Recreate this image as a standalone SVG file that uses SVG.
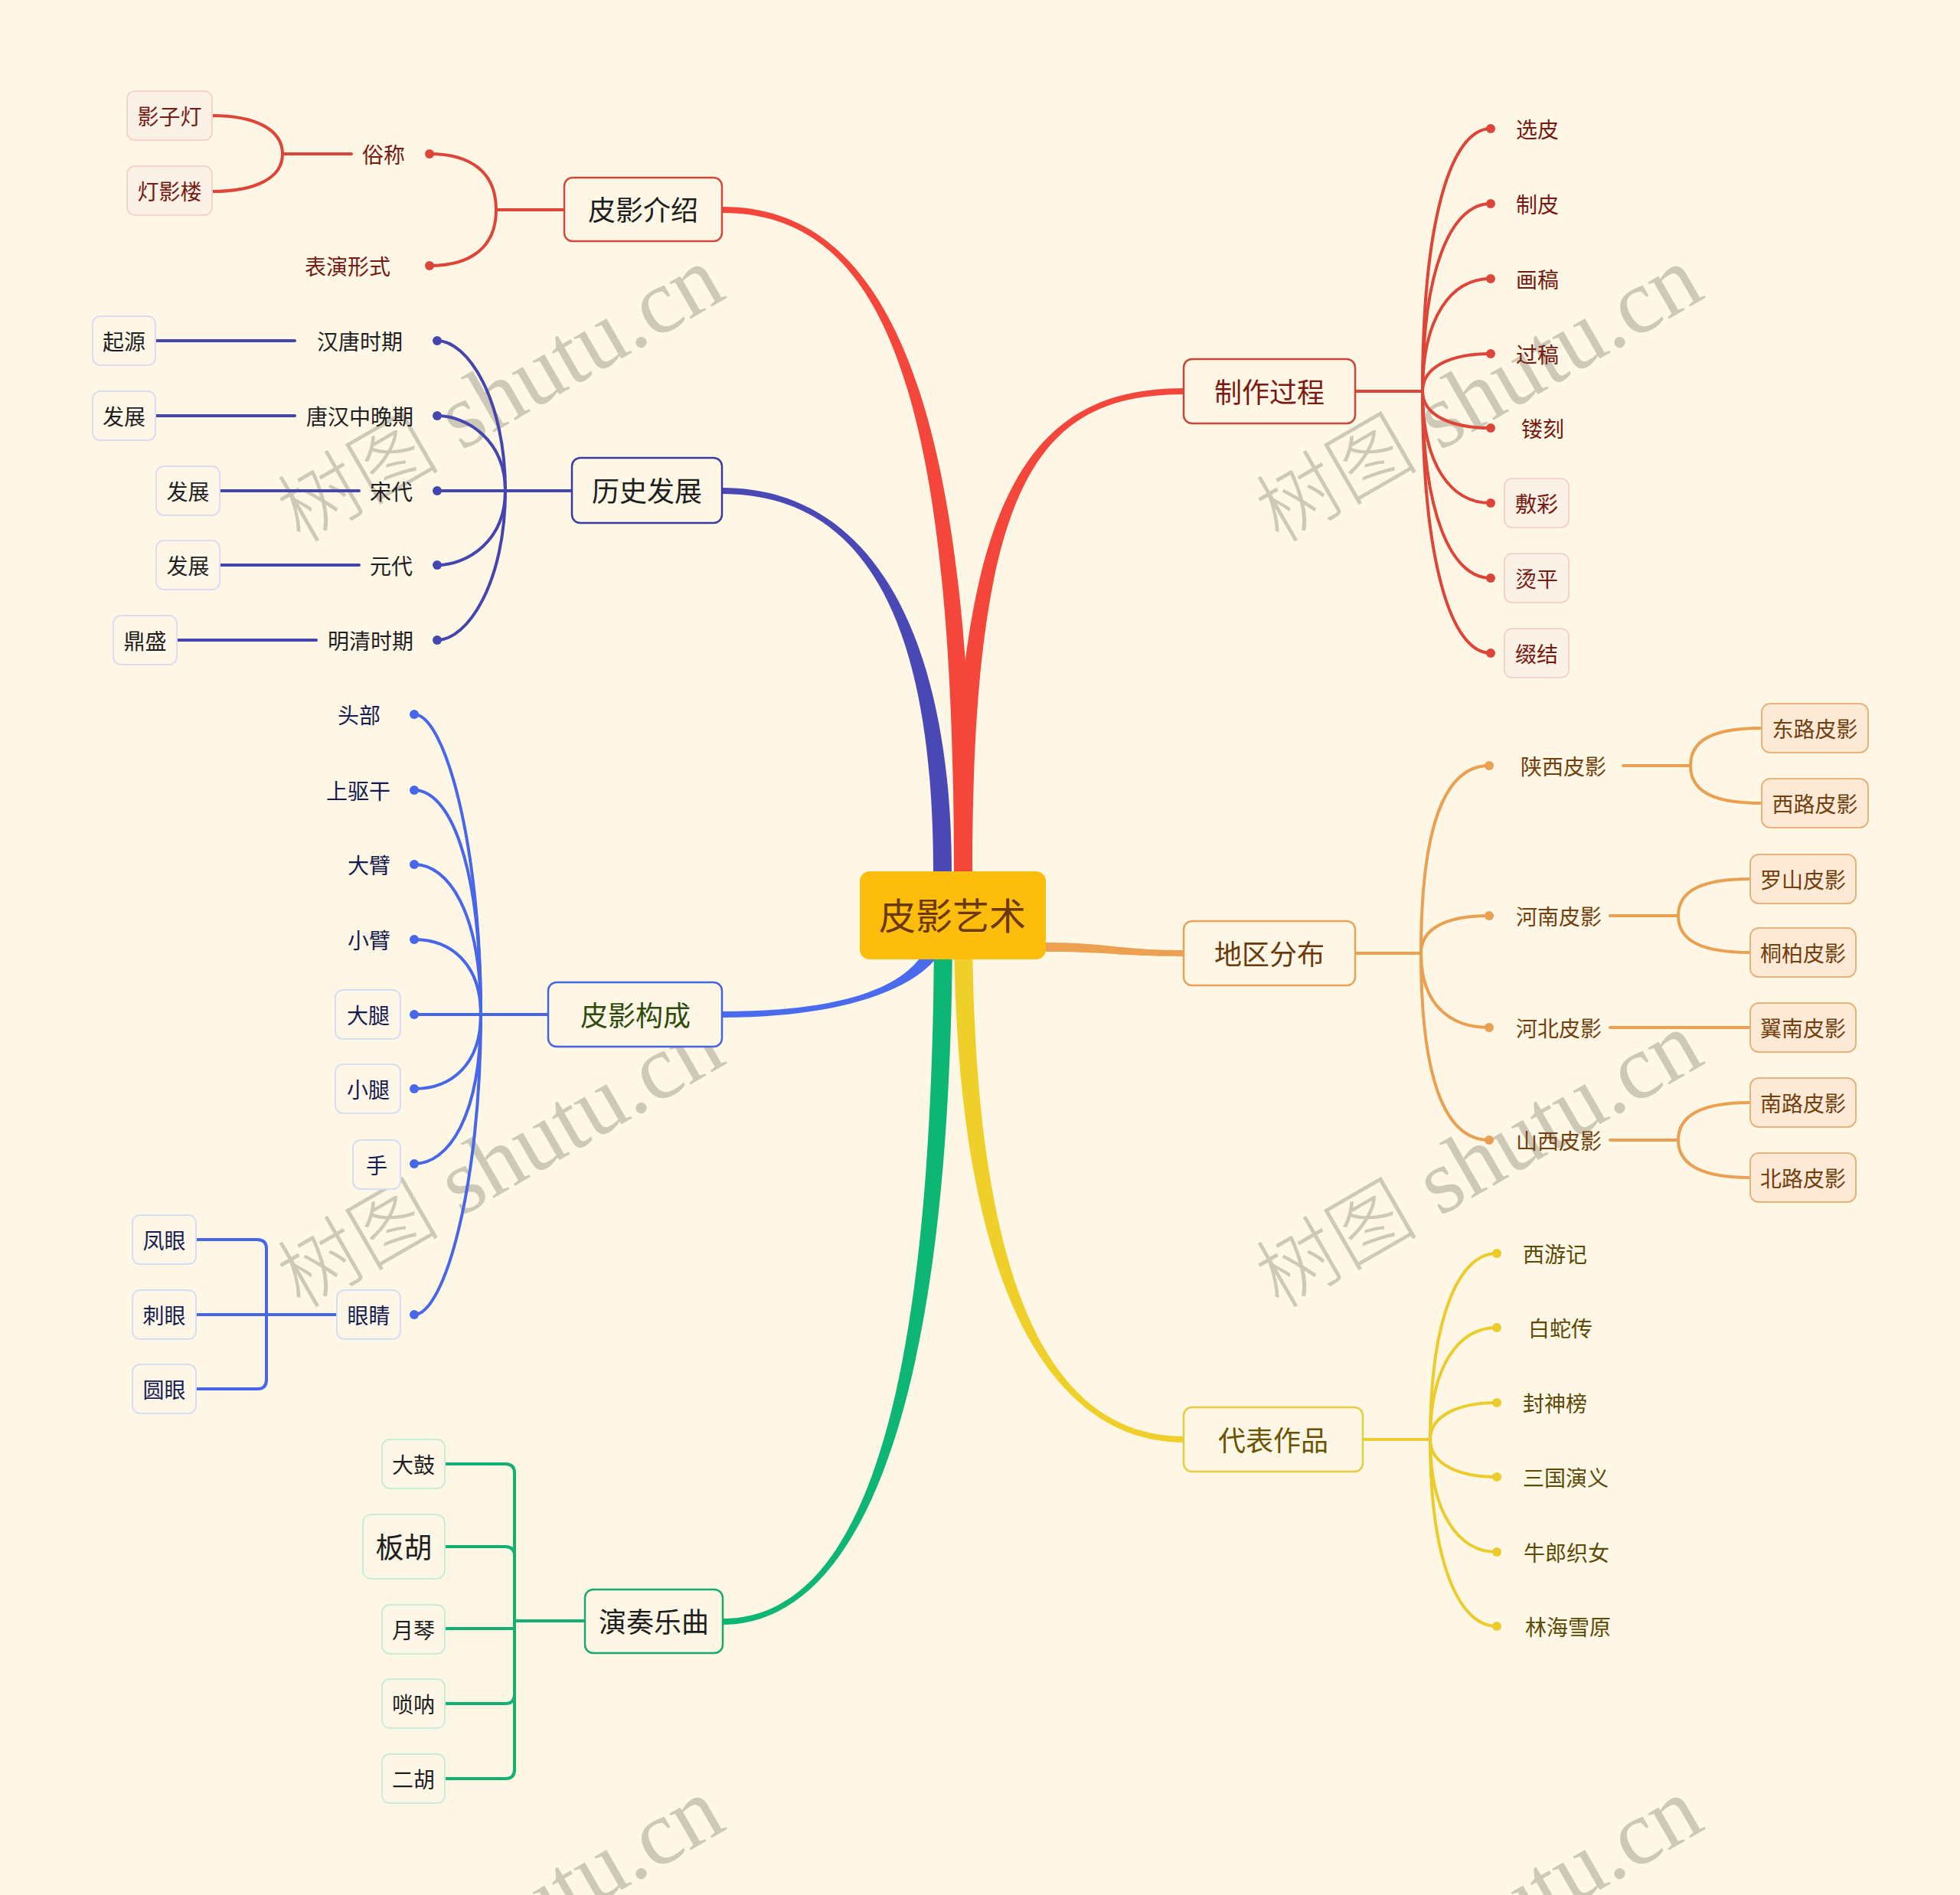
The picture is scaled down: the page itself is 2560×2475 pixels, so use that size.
<svg xmlns="http://www.w3.org/2000/svg" width="2560" height="2475" viewBox="0 0 2560 2475">
<style>
text{font-family:"Noto Sans CJK SC","Noto Sans",sans-serif;text-anchor:middle}
.wm{font-family:"Liberation Serif","Noto Sans CJK SC",serif;font-size:120px;fill:#CEC8B8;text-anchor:middle}
.wmc{font-family:"Noto Sans CJK SC",serif;font-size:106px;font-weight:300}
.l1{font-size:36px}
.l2{font-size:28px}
.box1{fill:#FEF7E6;stroke-width:2.5}
.ln{fill:none;stroke-width:4;stroke-linecap:round}
.red{stroke:#DE4539}.indigo{stroke:#4545B0}.blue{stroke:#4767E8}.green{stroke:#13B073}.orange{stroke:#EAA050}.yellow{stroke:#ECCC2C}
.dred{fill:#DE4539}.dindigo{fill:#4545B0}.dblue{fill:#4767E8}.dorange{fill:#EAA050}.dyellow{fill:#ECCC2C}
.lf-red{fill:#FCF1E6;stroke:#F3D4CB;stroke-width:2}
.lf-indigo{fill:#FEF7E8;stroke:#DCDBF0;stroke-width:2}
.lf-blue{fill:#FEF7E8;stroke:#D6DDF5;stroke-width:2}
.lf-green{fill:#FEF7E8;stroke:#CDEBD9;stroke-width:2}
.lf-orange{fill:#FCE9D6;stroke:#E9B27A;stroke-width:2}
.t-red{fill:#761A12}.t-dark{fill:#1E1E1E}.t-navy{fill:#161C52}.t-brown{fill:#74400E}.t-olive{fill:#5C4A05}
</style>
<rect width="2560" height="2475" fill="#FEF7E6"/>

<g id="watermarks">
<text class="wm" transform="translate(672,549) rotate(-30)"><tspan class="wmc">树图</tspan> shutu.cn</text>
<text class="wm" transform="translate(1950,549) rotate(-30)"><tspan class="wmc">树图</tspan> shutu.cn</text>
<text class="wm" transform="translate(672,1549) rotate(-30)"><tspan class="wmc">树图</tspan> shutu.cn</text>
<text class="wm" transform="translate(1950,1549) rotate(-30)"><tspan class="wmc">树图</tspan> shutu.cn</text>
<text class="wm" transform="translate(672,2549) rotate(-30)"><tspan class="wmc">树图</tspan> shutu.cn</text>
<text class="wm" transform="translate(1950,2549) rotate(-30)"><tspan class="wmc">树图</tspan> shutu.cn</text>
</g>

<g id="connectors">
<path fill="#4A48B5" d="M1219,1140 C1219,850 1150,645 943,645 L943,637 C1150,637 1243,850 1243,1140 Z"/>
<path fill="#F4463A" d="M1246,1140 C1246,500 1150,278 943,278 L943,270 C1150,270 1270,500 1270,1140 Z"/>
<path fill="#F4463A" d="M1246,1140 C1246,620 1360,507 1547,507 L1547,515 C1360,515 1270,620 1270,1140 Z"/>
<path fill="#4A6BEE" d="M1244,1195 C1244,1290 1100,1329 943,1329 L943,1321 C1100,1321 1220,1290 1220,1195 Z"/>
<path fill="#0DB674" d="M1244,1200 C1244,1850 1120,2122 943,2122 L943,2114 C1120,2114 1220,1850 1220,1200 Z"/>
<path fill="#EFD02A" d="M1270,1200 C1270,1700 1380,1876 1547,1876 L1547,1884 C1380,1884 1246,1700 1246,1200 Z"/>
<path fill="#EDA050" d="M1360,1231 C1450,1231 1460,1241 1547,1241 L1547,1249 C1460,1249 1450,1243 1360,1243 Z"/>

<path class="ln red" d="M737,274 H648"/>
<path class="ln red" d="M561,201 C615,201 648,225 648,274 C648,323 615,347 561,347"/>
<path class="ln red" d="M277,151 C335,151 369,170 369,201 C369,232 335,250 277,250"/>
<path class="ln red" d="M369,201 H459"/>
<circle class="dred" cx="561" cy="201" r="6"/>
<circle class="dred" cx="561" cy="347" r="6"/>

<path class="ln indigo" d="M747,641 H571"/>
<path class="ln indigo" d="M571,445 C610,445 660,520 660,641"/>
<path class="ln indigo" d="M571,543 C610,543 660,575 660,641"/>
<path class="ln indigo" d="M571,738 C610,738 660,707 660,641"/>
<path class="ln indigo" d="M571,836 C610,836 660,762 660,641"/>
<path class="ln indigo" d="M203,445 H385"/>
<path class="ln indigo" d="M203,543 H385"/>
<path class="ln indigo" d="M287,641 H469"/>
<path class="ln indigo" d="M287,738 H469"/>
<path class="ln indigo" d="M231,836 H413"/>
<circle class="dindigo" cx="571" cy="445" r="6"/>
<circle class="dindigo" cx="571" cy="543" r="6"/>
<circle class="dindigo" cx="571" cy="641" r="6"/>
<circle class="dindigo" cx="571" cy="738" r="6"/>
<circle class="dindigo" cx="571" cy="836" r="6"/>

<path class="ln blue" d="M716,1325 H541"/>
<path class="ln blue" d="M541,933 C580,933 628,1100 628,1325"/>
<path class="ln blue" d="M541,1032 C585,1032 628,1120 628,1325"/>
<path class="ln blue" d="M541,1129 C585,1129 628,1190 628,1325"/>
<path class="ln blue" d="M541,1227 C590,1227 628,1260 628,1325"/>
<path class="ln blue" d="M541,1422 C590,1422 628,1390 628,1325"/>
<path class="ln blue" d="M541,1520 C585,1520 628,1460 628,1325"/>
<path class="ln blue" d="M541,1717 C580,1717 628,1550 628,1325"/>
<path class="ln blue" d="M440,1717 H256"/>
<path class="ln blue" d="M256,1619 H336 Q348,1619 348,1631 V1802 Q348,1814 336,1814 H256"/>
<circle class="dblue" cx="541" cy="933" r="6"/>
<circle class="dblue" cx="541" cy="1032" r="6"/>
<circle class="dblue" cx="541" cy="1129" r="6"/>
<circle class="dblue" cx="541" cy="1227" r="6"/>
<circle class="dblue" cx="541" cy="1325" r="6"/>
<circle class="dblue" cx="541" cy="1422" r="6"/>
<circle class="dblue" cx="541" cy="1520" r="6"/>
<circle class="dblue" cx="541" cy="1717" r="6"/>

<path class="ln green" d="M764,2117 H672"/>
<path class="ln green" d="M581,1912 H660 Q672,1912 672,1924 V2311 Q672,2323 660,2323 H581"/>
<path class="ln green" d="M581,2020 H660 Q672,2020 672,2032"/>
<path class="ln green" d="M581,2127 H672"/>
<path class="ln green" d="M581,2225 H660 Q672,2225 672,2213"/>

<path class="ln red" d="M1770,511 H1858"/>
<path class="ln red" d="M1947,168 C1895,168 1858,288 1858,511"/>
<path class="ln red" d="M1947,266 C1895,266 1858,352 1858,511"/>
<path class="ln red" d="M1947,364 C1895,364 1858,415 1858,511"/>
<path class="ln red" d="M1947,462 C1895,462 1858,479 1858,511"/>
<path class="ln red" d="M1947,559 C1895,559 1858,542 1858,511"/>
<path class="ln red" d="M1947,657 C1895,657 1858,607 1858,511"/>
<path class="ln red" d="M1947,755 C1895,755 1858,670 1858,511"/>
<path class="ln red" d="M1947,853 C1895,853 1858,733 1858,511"/>
<circle class="dred" cx="1947" cy="168" r="6"/>
<circle class="dred" cx="1947" cy="266" r="6"/>
<circle class="dred" cx="1947" cy="364" r="6"/>
<circle class="dred" cx="1947" cy="462" r="6"/>
<circle class="dred" cx="1947" cy="559" r="6"/>
<circle class="dred" cx="1947" cy="657" r="6"/>
<circle class="dred" cx="1947" cy="755" r="6"/>
<circle class="dred" cx="1947" cy="853" r="6"/>

<path class="ln orange" d="M1770,1245 H1856"/>
<path class="ln orange" d="M1945,1000 C1885,1000 1856,1085 1856,1245"/>
<path class="ln orange" d="M1945,1196 C1890,1196 1856,1212 1856,1245"/>
<path class="ln orange" d="M1945,1342 C1890,1342 1856,1308 1856,1245"/>
<path class="ln orange" d="M1945,1489 C1885,1489 1856,1403 1856,1245"/>
<path class="ln orange" d="M2120,1000 H2208"/>
<path class="ln orange" d="M2301,951 C2240,951 2208,965 2208,1000 C2208,1035 2240,1049 2301,1049"/>
<path class="ln orange" d="M2103,1196 H2192"/>
<path class="ln orange" d="M2286,1148 C2225,1148 2192,1162 2192,1196 C2192,1230 2225,1244 2286,1244"/>
<path class="ln orange" d="M2103,1342 H2286"/>
<path class="ln orange" d="M2103,1489 H2192"/>
<path class="ln orange" d="M2286,1440 C2225,1440 2192,1455 2192,1489 C2192,1523 2225,1538 2286,1538"/>
<circle class="dorange" cx="1945" cy="1000" r="6"/>
<circle class="dorange" cx="1945" cy="1196" r="6"/>
<circle class="dorange" cx="1945" cy="1342" r="6"/>
<circle class="dorange" cx="1945" cy="1489" r="6"/>

<path class="ln yellow" d="M1780,1880 H1868"/>
<path class="ln yellow" d="M1955,1637 C1905,1637 1868,1722 1868,1880"/>
<path class="ln yellow" d="M1955,1734 C1905,1734 1868,1785 1868,1880"/>
<path class="ln yellow" d="M1955,1832 C1905,1832 1868,1849 1868,1880"/>
<path class="ln yellow" d="M1955,1929 C1905,1929 1868,1912 1868,1880"/>
<path class="ln yellow" d="M1955,2027 C1905,2027 1868,1976 1868,1880"/>
<path class="ln yellow" d="M1955,2124 C1905,2124 1868,2039 1868,1880"/>
<circle class="dyellow" cx="1955" cy="1637" r="6"/>
<circle class="dyellow" cx="1955" cy="1734" r="6"/>
<circle class="dyellow" cx="1955" cy="1832" r="6"/>
<circle class="dyellow" cx="1955" cy="1929" r="6"/>
<circle class="dyellow" cx="1955" cy="2027" r="6"/>
<circle class="dyellow" cx="1955" cy="2124" r="6"/>
</g>

<g id="n-root">
<rect x="1123" y="1138" width="243" height="115" rx="13" fill="#FDBD0C"/>
<text x="1244" y="1214" font-size="48" fill="#6B3806">皮影艺术</text>
</g>

<g id="n-jieshao"><rect class="box1" x="737" y="232" width="206" height="83" rx="11" stroke="#D04A3E"/><text class="l1 t-dark" x="840" y="288">皮影介绍</text></g>
<g id="n-lishi"><rect class="box1" x="747" y="598" width="196" height="85" rx="11" stroke="#3C3CA0"/><text class="l1 t-dark" x="845" y="655">历史发展</text></g>
<g id="n-goucheng"><rect class="box1" x="716" y="1283" width="227" height="84" rx="11" stroke="#4466DD"/><text class="l1" fill="#2E4B0C" x="830" y="1340">皮影构成</text></g>
<g id="n-yanzou"><rect class="box1" x="764" y="2076" width="180" height="83" rx="11" stroke="#1AA872"/><text class="l1 t-dark" x="854" y="2132">演奏乐曲</text></g>
<g id="n-zhizuo"><rect class="box1" x="1546" y="469" width="224" height="84" rx="11" stroke="#C9463A"/><text class="l1" fill="#7A1A12" x="1658" y="526">制作过程</text></g>
<g id="n-diqu"><rect class="box1" x="1546" y="1203" width="224" height="84" rx="11" stroke="#E8A35A"/><text class="l1" fill="#6B3A0A" x="1658" y="1260">地区分布</text></g>
<g id="n-daibiao"><rect class="box1" x="1546" y="1838" width="234" height="84" rx="11" stroke="#E8CC40"/><text class="l1" fill="#6B5200" x="1663" y="1895">代表作品</text></g>

<g id="n-suchen"><text class="l2 t-red" x="501" y="213">俗称</text></g>
<g id="n-biaoyan"><text class="l2 t-red" x="454" y="359">表演形式</text></g>
<g id="n-yingzideng"><rect class="lf-red" x="166" y="119" width="111" height="64" rx="10"/><text class="l2 t-red" x="221.5" y="163">影子灯</text></g>
<g id="n-dengyinglou"><rect class="lf-red" x="166" y="217" width="111" height="64" rx="10"/><text class="l2 t-red" x="221.5" y="261">灯影楼</text></g>

<g id="n-hantang"><text class="l2 t-dark" x="470" y="457">汉唐时期</text></g>
<g id="n-tanghan"><text class="l2 t-dark" x="470" y="555">唐汉中晚期</text></g>
<g id="n-songdai"><text class="l2 t-dark" x="511" y="653">宋代</text></g>
<g id="n-yuandai"><text class="l2 t-dark" x="511" y="750">元代</text></g>
<g id="n-mingqing"><text class="l2 t-dark" x="484" y="848">明清时期</text></g>
<g id="n-qiyuan"><rect class="lf-indigo" x="121" y="413" width="82" height="64" rx="10"/><text class="l2 t-dark" x="162" y="457">起源</text></g>
<g id="n-fazhan1"><rect class="lf-indigo" x="121" y="511" width="82" height="64" rx="10"/><text class="l2 t-dark" x="162" y="555">发展</text></g>
<g id="n-fazhan2"><rect class="lf-indigo" x="204" y="609" width="83" height="64" rx="10"/><text class="l2 t-dark" x="245.5" y="653">发展</text></g>
<g id="n-fazhan3"><rect class="lf-indigo" x="204" y="706" width="83" height="64" rx="10"/><text class="l2 t-dark" x="245.5" y="750">发展</text></g>
<g id="n-dingsheng"><rect class="lf-indigo" x="148" y="804" width="83" height="64" rx="10"/><text class="l2 t-dark" x="189.5" y="848">鼎盛</text></g>

<g id="n-toubu"><text class="l2 t-navy" x="469" y="945">头部</text></g>
<g id="n-shangqugan"><text class="l2 t-navy" x="468" y="1044">上驱干</text></g>
<g id="n-dabi"><text class="l2 t-navy" x="482" y="1141">大臂</text></g>
<g id="n-xiaobi"><text class="l2 t-navy" x="482" y="1239">小臂</text></g>
<g id="n-datui"><rect class="lf-blue" x="438" y="1293" width="85" height="64" rx="10"/><text class="l2 t-navy" x="481" y="1337">大腿</text></g>
<g id="n-xiaotui"><rect class="lf-blue" x="438" y="1390" width="85" height="64" rx="10"/><text class="l2 t-navy" x="481" y="1434">小腿</text></g>
<g id="n-shou"><rect class="lf-blue" x="461" y="1489" width="62" height="64" rx="10"/><text class="l2 t-navy" x="492" y="1533">手</text></g>
<g id="n-yanjing"><rect class="lf-blue" x="440" y="1685" width="83" height="64" rx="10"/><text class="l2 t-navy" x="481.5" y="1729">眼睛</text></g>
<g id="n-fengyan"><rect class="lf-blue" x="173" y="1587" width="83" height="64" rx="10"/><text class="l2 t-navy" x="214.5" y="1631">凤眼</text></g>
<g id="n-ciyan"><rect class="lf-blue" x="173" y="1685" width="83" height="64" rx="10"/><text class="l2 t-navy" x="214.5" y="1729">刺眼</text></g>
<g id="n-yuanyan"><rect class="lf-blue" x="173" y="1782" width="83" height="64" rx="10"/><text class="l2 t-navy" x="214.5" y="1826">圆眼</text></g>

<g id="n-dagu"><rect class="lf-green" x="499" y="1880" width="82" height="64" rx="10"/><text class="l2 t-dark" x="540" y="1924">大鼓</text></g>
<g id="n-banhu"><rect class="lf-green" x="474" y="1978" width="107" height="84" rx="11"/><text class="t-dark" font-size="37" x="527.5" y="2035">板胡</text></g>
<g id="n-yueqin"><rect class="lf-green" x="499" y="2096" width="82" height="64" rx="10"/><text class="l2 t-dark" x="540" y="2140">月琴</text></g>
<g id="n-suona"><rect class="lf-green" x="499" y="2193" width="82" height="64" rx="10"/><text class="l2 t-dark" x="540" y="2237">唢呐</text></g>
<g id="n-erhu"><rect class="lf-green" x="499" y="2291" width="82" height="64" rx="10"/><text class="l2 t-dark" x="540" y="2335">二胡</text></g>

<g id="n-xuanpi"><text class="l2 t-red" x="2008" y="180">选皮</text></g>
<g id="n-zhipi"><text class="l2 t-red" x="2008" y="278">制皮</text></g>
<g id="n-huagao"><text class="l2 t-red" x="2008" y="376">画稿</text></g>
<g id="n-guogao"><text class="l2 t-red" x="2008" y="474">过稿</text></g>
<g id="n-louke"><text class="l2 t-red" x="2015" y="571">镂刻</text></g>
<g id="n-fucai"><rect class="lf-red" x="1965" y="625" width="84" height="64" rx="10"/><text class="l2 t-red" x="2007" y="669">敷彩</text></g>
<g id="n-tangping"><rect class="lf-red" x="1965" y="723" width="84" height="64" rx="10"/><text class="l2 t-red" x="2007" y="767">烫平</text></g>
<g id="n-zhuijie"><rect class="lf-red" x="1965" y="821" width="84" height="64" rx="10"/><text class="l2 t-red" x="2007" y="865">缀结</text></g>

<g id="n-shaanxi"><text class="l2 t-brown" x="2042" y="1012">陕西皮影</text></g>
<g id="n-henan"><text class="l2 t-brown" x="2036" y="1208">河南皮影</text></g>
<g id="n-hebei"><text class="l2 t-brown" x="2036" y="1354">河北皮影</text></g>
<g id="n-shanxi"><text class="l2 t-brown" x="2036" y="1501">山西皮影</text></g>
<g id="n-donglu"><rect class="lf-orange" x="2301" y="919" width="139" height="64" rx="11"/><text class="l2 t-brown" x="2370.5" y="963">东路皮影</text></g>
<g id="n-xilu"><rect class="lf-orange" x="2301" y="1017" width="139" height="64" rx="11"/><text class="l2 t-brown" x="2370.5" y="1061">西路皮影</text></g>
<g id="n-luoshan"><rect class="lf-orange" x="2286" y="1116" width="138" height="64" rx="11"/><text class="l2 t-brown" x="2355" y="1160">罗山皮影</text></g>
<g id="n-tongbai"><rect class="lf-orange" x="2286" y="1212" width="138" height="64" rx="11"/><text class="l2 t-brown" x="2355" y="1256">桐柏皮影</text></g>
<g id="n-yinan"><rect class="lf-orange" x="2286" y="1310" width="138" height="64" rx="11"/><text class="l2 t-brown" x="2355" y="1354">翼南皮影</text></g>
<g id="n-nanlu"><rect class="lf-orange" x="2286" y="1408" width="138" height="64" rx="11"/><text class="l2 t-brown" x="2355" y="1452">南路皮影</text></g>
<g id="n-beilu"><rect class="lf-orange" x="2286" y="1506" width="138" height="64" rx="11"/><text class="l2 t-brown" x="2355" y="1550">北路皮影</text></g>

<g id="n-xiyouji"><text class="l2 t-olive" x="2031" y="1649">西游记</text></g>
<g id="n-baishezhuan"><text class="l2 t-olive" x="2038" y="1746">白蛇传</text></g>
<g id="n-fengshenbang"><text class="l2 t-olive" x="2031" y="1844">封神榜</text></g>
<g id="n-sanguo"><text class="l2 t-olive" x="2045" y="1941">三国演义</text></g>
<g id="n-niulang"><text class="l2 t-olive" x="2046" y="2039">牛郎织女</text></g>
<g id="n-linhai"><text class="l2 t-olive" x="2048" y="2136">林海雪原</text></g>
</svg>
